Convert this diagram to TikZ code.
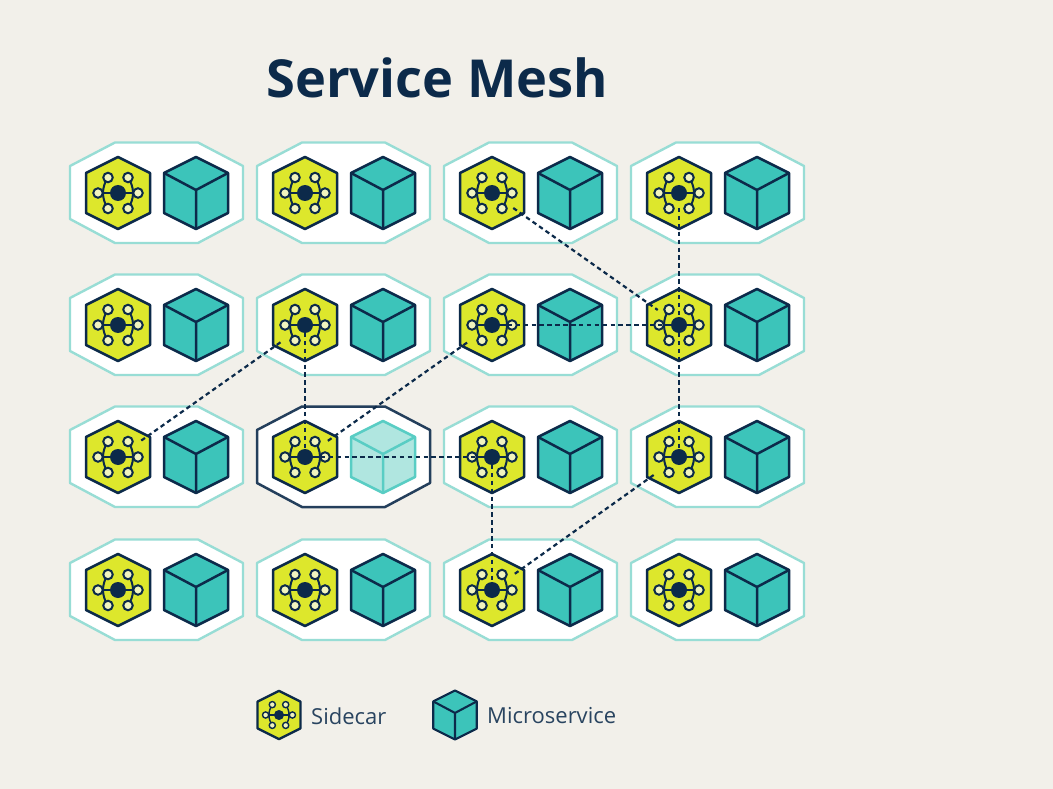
\documentclass[tikz,border=0pt]{standalone}
\usepackage{fontspec}
\setmainfont{Open Sans}
\definecolor{bgc}{HTML}{F2F0EA}
\definecolor{lime}{HTML}{DDE72C}
\definecolor{teal}{HTML}{3CC4BA}
\definecolor{navy}{HTML}{0C2A4A}
\definecolor{rim}{HTML}{98DDD5}
\definecolor{palecube}{HTML}{B0E6E0}
\definecolor{pip}{HTML}{F1F4BE}
\tikzset{
  x=1pt,y=-1pt,
  hexline/.style={draw=navy,line width=2.5pt,line join=round},
  rimline/.style={draw=rim,line width=2.4pt,fill=white,line join=round},
  activerim/.style={draw=navy!90!white,line width=2.5pt,fill=white,line join=round},
  meshlink/.style={draw=navy,line width=2.2pt,dash pattern=on 4.5pt off 3.4pt},
  treeline/.style={draw=navy,line width=2pt},
  pipdot/.style={circle,draw=navy,line width=2pt,fill=pip,minimum size=9.5pt,inner sep=0pt},
  hubdot/.style={circle,fill=navy,minimum size=16pt,inner sep=0pt},
  legendtext/.style={text=navy!88!white,font=\fontsize{22}{24}\selectfont,anchor=west,inner sep=0pt},
}
% sidecar: #1 name, #2 x, #3 y
\newcommand{\sidecarat}[3]{%
  \begin{scope}[shift={(#2,#3)}]
    \draw[hexline,fill=lime] (0,-36)--(32,-20)--(32,20)--(0,36)--(-32,20)--(-32,-20)--cycle;
    \draw[treeline] (-20,0)--(20,0);
    \draw[treeline] (-10,-15.5) .. controls (-13,-11) and (-15,-6) .. (-15,0);
    \draw[treeline] (10,-15.5) .. controls (13,-11) and (15,-6) .. (15,0);
    \draw[treeline] (-10,15.5) .. controls (-13,11) and (-15,6) .. (-15,0);
    \draw[treeline] (10,15.5) .. controls (13,11) and (15,6) .. (15,0);
    \node[pipdot] at (-10,-15.5) {};
    \node[pipdot] at (10,-15.5) {};
    \node[pipdot] at (-20,0) {};
    \node[pipdot] at (20,0) {};
    \node[pipdot] at (-10,15.5) {};
    \node[pipdot] at (10,15.5) {};
    \node[hubdot] (#1) at (0,0) {};
  \end{scope}}
% cube: #1 x, #2 y, #3 fill, #4 line colour
\newcommand{\cubeat}[4]{%
  \begin{scope}[shift={(#1,#2)}]
    \draw[draw=#4,line width=2.5pt,line join=round,fill=#3] (0,-36)--(32,-20)--(32,20)--(0,36)--(-32,20)--(-32,-20)--cycle;
    \draw[draw=#4,line width=2.5pt,line join=round] (-32,-20)--(0,-3)--(32,-20) (0,-3)--(0,36);
  \end{scope}}
% cell: #1 name, #2 x of sidecar, #3 y
\newcommand{\cellat}[3]{%
  \begin{scope}[shift={(#2,#3)}]
    \draw[rimline] (-3,-50.5)--(80,-50.5)--(125,-27)--(125,26)--(80,50)--(-3,50)--(-48,26)--(-48,-27)--cycle;
  \end{scope}
  \sidecarat{#1}{#2}{#3}
  \cubeat{#2+78}{#3}{teal}{navy}}
\begin{document}
\begin{tikzpicture}
\useasboundingbox (0,0) rectangle (1053,789);
\fill[bgc] (0,0) rectangle (1053,789);
\node[text=navy,font=\fontsize{52.4}{58}\selectfont\bfseries,anchor=base west,inner sep=0pt] (title) at (266,98) {Service Mesh};
\foreach \r/\y in {1/193,2/325,3/457,4/590}{
  \foreach \c/\x in {1/118,2/305,3/492,4/679}{
    \ifnum\r\c=32\relax
      \begin{scope}[shift={(\x,\y)}]
        \draw[activerim] (-3,-50.5)--(80,-50.5)--(125,-27)--(125,26)--(80,50)--(-3,50)--(-48,26)--(-48,-27)--cycle;
      \end{scope}
      \sidecarat{s\r\c}{\x}{\y}
      \cubeat{\x+78}{\y}{palecube}{teal!85!white}
    \else
      \cellat{s\r\c}{\x}{\y}
    \fi
  }
}
% connectors
\draw[meshlink,shorten <=26pt,shorten >=26pt] (s13.center)--(s24.center);
\draw[meshlink,shorten <=15pt] (s14.center)--(s24.center);
\draw[meshlink] (s24.center)--(s34.center);
\draw[meshlink] (s23.center)--(s24.center);
\draw[meshlink,shorten <=30pt,shorten >=28pt] (s22.center)--(s31.center);
\draw[meshlink] (s22.center)--(s32.center);
\draw[meshlink,shorten <=28pt,shorten >=28pt] (s32.center)--(s23.center);
\draw[meshlink] (s32.center)--(s33.center);
\draw[meshlink] (s33.center)--(s43.center);
\draw[meshlink,shorten <=28pt,shorten >=28pt] (s43.center)--(s34.center);
% legend
\begin{scope}[shift={(279,715)},scale=0.67]
  \draw[draw=navy,line width=2.3pt,line join=round,fill=lime] (0,-36)--(32,-20)--(32,20)--(0,36)--(-32,20)--(-32,-20)--cycle;
  \draw[draw=navy,line width=1.4pt] (-20,0)--(20,0);
  \draw[draw=navy,line width=1.4pt] (-10,-15.5) .. controls (-13,-11) and (-15,-6) .. (-15,0);
  \draw[draw=navy,line width=1.4pt] (10,-15.5) .. controls (13,-11) and (15,-6) .. (15,0);
  \draw[draw=navy,line width=1.4pt] (-10,15.5) .. controls (-13,11) and (-15,6) .. (-15,0);
  \draw[draw=navy,line width=1.4pt] (10,15.5) .. controls (13,11) and (15,6) .. (15,0);
  \foreach \a/\b in {-10/-15.5,10/-15.5,-20/0,20/0,-10/15.5,10/15.5}{
    \draw[draw=navy,line width=1.4pt,fill=pip] (\a,\b) circle[radius=4.6];}
  \fill[navy] (0,0) circle[radius=7.5];
\end{scope}
\node[legendtext] (sidelabel) at (311,716) {Sidecar};
\begin{scope}[shift={(455,715)},scale=0.68]
  \draw[draw=navy,line width=2.1pt,line join=round,fill=teal] (0,-36)--(32,-20)--(32,20)--(0,36)--(-32,20)--(-32,-20)--cycle;
  \draw[draw=navy,line width=2.1pt,line join=round] (-32,-20)--(0,-3)--(32,-20) (0,-3)--(0,36);
\end{scope}
\node[legendtext] (microlabel) at (487,716) {Microservice};
\end{tikzpicture}
\end{document}
